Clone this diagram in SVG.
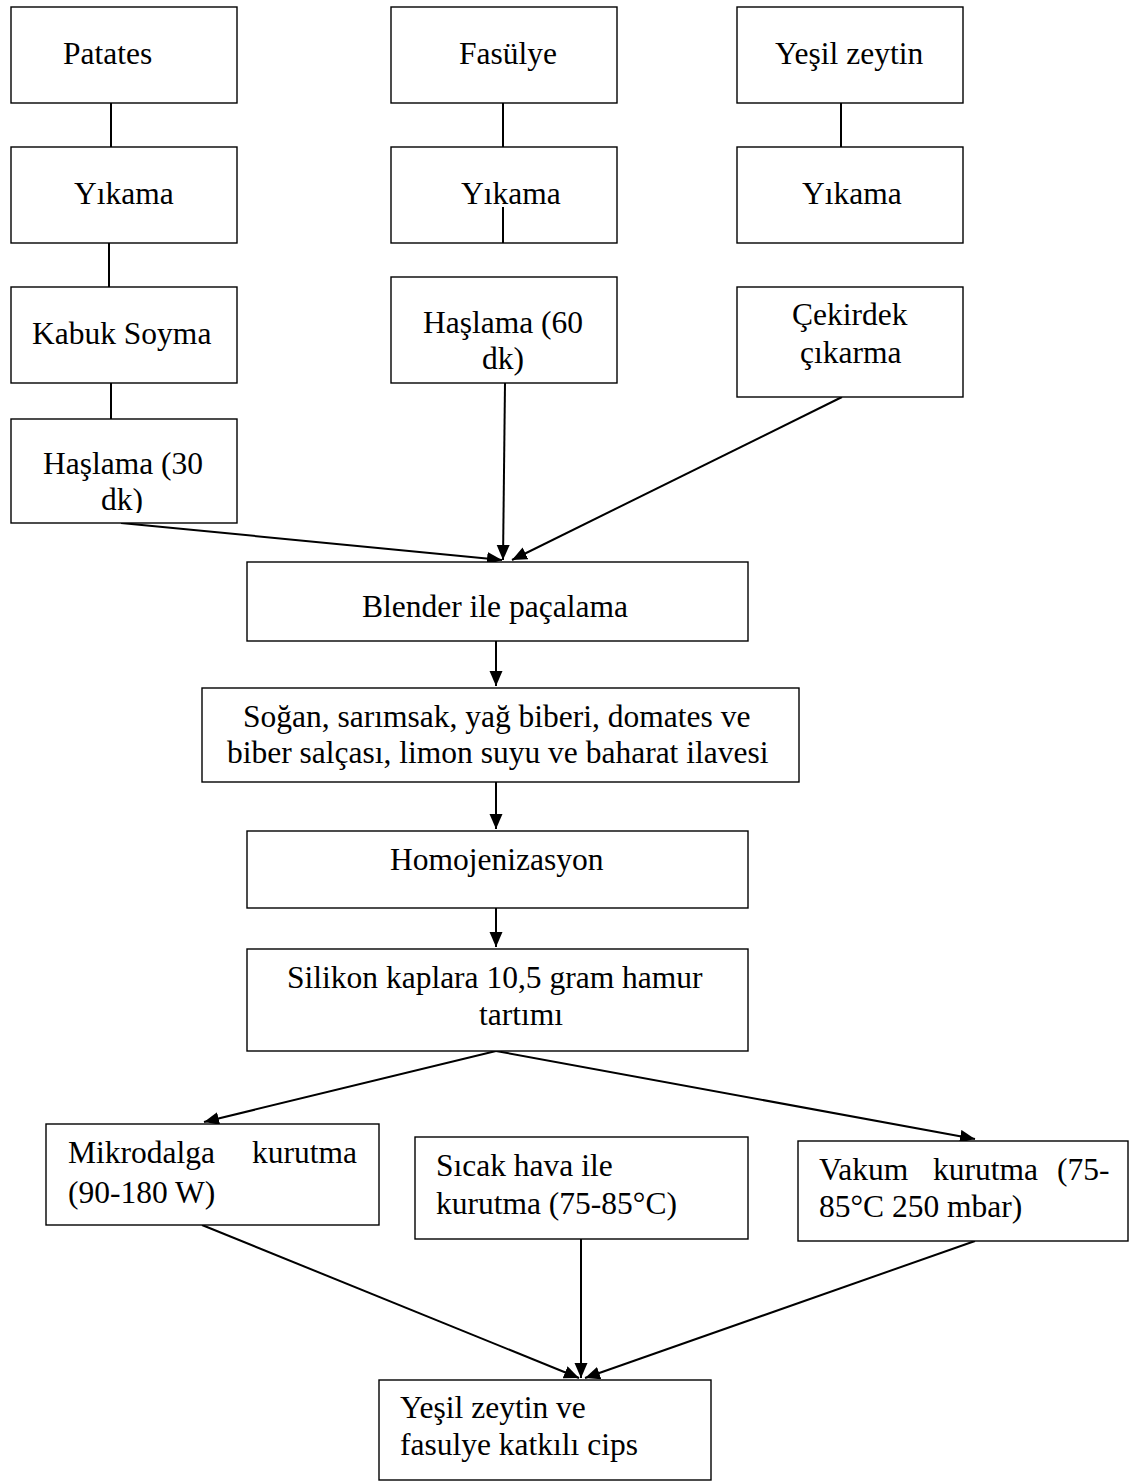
<svg xmlns="http://www.w3.org/2000/svg" width="1133" height="1481" viewBox="0 0 1133 1481">
<style>
.box{fill:#fff;stroke:#000;stroke-width:1.4}
.t{font-family:"Liberation Serif","Times New Roman",serif;font-size:31.5px;fill:#000}
.c{stroke:#000;stroke-width:2;fill:none}
</style>
<defs>
<marker id="ah" markerUnits="userSpaceOnUse" markerWidth="16" markerHeight="14" refX="15" refY="6.5" orient="auto">
<path d="M0,0 L15,6.5 L0,13 z" fill="#000"/>
</marker>
<clipPath id="clipH30"><rect x="11" y="419" width="226" height="94"/></clipPath>
</defs>
<rect width="1133" height="1481" fill="#fff"/>
<g id="connectors">
<line class="c" x1="111" y1="103" x2="111" y2="147"/>
<line class="c" x1="109" y1="243" x2="109" y2="287"/>
<line class="c" x1="111" y1="383" x2="111" y2="419"/>
<line class="c" x1="503" y1="103" x2="503" y2="147"/>
<line class="c" x1="841" y1="103" x2="841" y2="147"/>
<line class="c" x1="121" y1="523" x2="502" y2="560" marker-end="url(#ah)"/>
<line class="c" x1="505" y1="383" x2="503" y2="560" marker-end="url(#ah)"/>
<line class="c" x1="842" y1="397" x2="512" y2="560" marker-end="url(#ah)"/>
<line class="c" x1="496" y1="641" x2="496" y2="686" marker-end="url(#ah)"/>
<line class="c" x1="496" y1="782" x2="496" y2="829" marker-end="url(#ah)"/>
<line class="c" x1="496" y1="908" x2="496" y2="947" marker-end="url(#ah)"/>
<line class="c" x1="496" y1="1051" x2="204" y2="1122" marker-end="url(#ah)"/>
<line class="c" x1="496" y1="1051" x2="975" y2="1139" marker-end="url(#ah)"/>
<line class="c" x1="202" y1="1225" x2="579" y2="1378" marker-end="url(#ah)"/>
<line class="c" x1="581" y1="1239" x2="581" y2="1378" marker-end="url(#ah)"/>
<line class="c" x1="975" y1="1241" x2="585" y2="1378" marker-end="url(#ah)"/>
</g>
<g id="patates"><rect class="box" x="11" y="7" width="226" height="96"/><text class="t" x="63" y="64">Patates</text></g>
<g id="yikama1"><rect class="box" x="11" y="147" width="226" height="96"/><text class="t" x="74" y="204">Yıkama</text></g>
<g id="kabuk"><rect class="box" x="11" y="287" width="226" height="96"/><text class="t" x="32" y="344">Kabuk Soyma</text></g>
<g id="haslama30"><rect class="box" x="11" y="419" width="226" height="104"/><g clip-path="url(#clipH30)"><text class="t" x="43" y="474">Haşlama (30</text><text class="t" x="101" y="510">dk)</text></g></g>
<g id="fasulye"><rect class="box" x="391" y="7" width="226" height="96"/><text class="t" x="459" y="64">Fasülye</text></g>
<g id="yikama2"><rect class="box" x="391" y="147" width="226" height="96"/><text class="t" x="461" y="204">Yıkama</text><line class="c" x1="503" y1="207" x2="503" y2="243"/></g>
<g id="haslama60"><rect class="box" x="391" y="277" width="226" height="106"/><text class="t" x="423" y="333">Haşlama (60</text><text class="t" x="482" y="369">dk)</text></g>
<g id="yesilzeytin"><rect class="box" x="737" y="7" width="226" height="96"/><text class="t" x="775" y="64">Yeşil zeytin</text></g>
<g id="yikama3"><rect class="box" x="737" y="147" width="226" height="96"/><text class="t" x="802" y="204">Yıkama</text></g>
<g id="cekirdek"><rect class="box" x="737" y="287" width="226" height="110"/><text class="t" x="792" y="325">Çekirdek</text><text class="t" x="800" y="363">çıkarma</text></g>
<g id="blender"><rect class="box" x="247" y="562" width="501" height="79"/><text class="t" x="362" y="617">Blender ile paçalama</text></g>
<g id="ilave"><rect class="box" x="202" y="688" width="597" height="94"/><text class="t" x="243" y="727">Soğan, sarımsak, yağ biberi, domates ve</text><text class="t" x="227" y="763">biber salçası, limon suyu ve baharat ilavesi</text></g>
<g id="homojen"><rect class="box" x="247" y="831" width="501" height="77"/><text class="t" x="390" y="870">Homojenizasyon</text></g>
<g id="silikon"><rect class="box" x="247" y="949" width="501" height="102"/><text class="t" x="287" y="988">Silikon kaplara 10,5 gram hamur</text><text class="t" x="479" y="1025">tartımı</text></g>
<g id="mikrodalga"><rect class="box" x="46" y="1124" width="333" height="101"/><text class="t" y="1163"><tspan x="68">Mikrodalga</tspan><tspan x="252">kurutma</tspan></text><text class="t" x="68" y="1203">(90-180 W)</text></g>
<g id="sicakhava"><rect class="box" x="415" y="1137" width="333" height="102"/><text class="t" x="436" y="1176">Sıcak hava ile</text><text class="t" x="436" y="1214">kurutma (75-85°C)</text></g>
<g id="vakum"><rect class="box" x="798" y="1141" width="330" height="100"/><text class="t" y="1180"><tspan x="819">Vakum</tspan><tspan x="933">kurutma</tspan><tspan x="1057">(75-</tspan></text><text class="t" x="819" y="1217">85°C 250 mbar)</text></g>
<g id="cips"><rect class="box" x="379" y="1380" width="332" height="100"/><text class="t" x="400" y="1418">Yeşil zeytin ve</text><text class="t" x="400" y="1455">fasulye katkılı cips</text></g>
</svg>
